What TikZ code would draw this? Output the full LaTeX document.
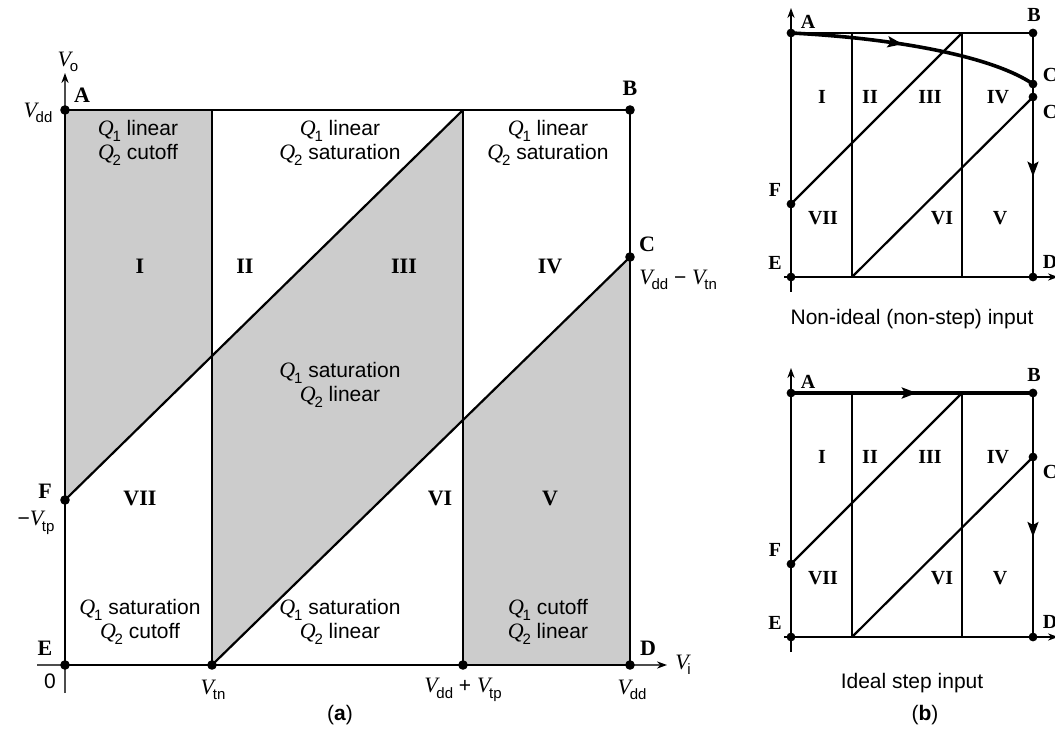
\documentclass[tikz,border=0pt]{standalone}
\usepackage{fontspec}
\setmainfont{Liberation Sans}
\newfontfamily\tms{Liberation Serif}
\usetikzlibrary{arrows.meta,calc,decorations.markings}

% italic symbol with a sans subscript
\newcommand{\sym}[2]{{\tms\itshape\fontsize{11}{12}\selectfont #1}\kern-0.06em\raisebox{-0.5ex}{\fontsize{7.5}{8}\selectfont #2}}

\begin{document}
\begin{tikzpicture}[x=0.5pt,y=-0.5pt,
  frame/.style={line width=1.4pt},
  wall/.style={line width=1.1pt},
  heavy/.style={line width=1.8pt},
  axis/.style={line width=0.7pt,black!70,-{Stealth[black,length=5pt,width=3.6pt]}},
  greyzone/.style={fill=black!20},
  pin/.style={circle,fill,inner sep=0pt,minimum size=#1},
  pin/.default=4.8pt,
  corner/.style={font=\tms\bfseries\fontsize{11}{11}\selectfont,inner sep=0pt},
  small/.style={font=\tms\bfseries\fontsize{10}{10}\selectfont,inner sep=0pt},
  mode/.style={align=center,font=\fontsize{10.5}{12}\selectfont,inner sep=0pt},
  tick/.style={font=\fontsize{10.5}{12}\selectfont,inner sep=0pt},
  midarrow/.style={postaction={decorate},decoration={markings,
    mark=at position #1 with {\arrow{Stealth[length=7.5pt,width=5.5pt,inset=1.5pt]}}}}]
\useasboundingbox (0,0) rectangle (1055,753);

%% (a) operating regions
\coordinate (A) at (65,110);
\coordinate (B) at (630,110);
\coordinate (C) at (630,257);
\coordinate (D) at (630,665);
\coordinate (E) at (65,665);
\coordinate (F) at (65,500);
\coordinate (tn) at (212,665);
\coordinate (tp) at (463,665);
\coordinate (tnT) at (212,110);
\coordinate (tpT) at (463,110);
\coordinate (G) at ($(F)!0.3693!(tpT)$);
\coordinate (H) at ($(tn)!0.6005!(C)$);

\fill[greyzone] (A) -- (tnT) -- (G) -- (F) -- cycle;
\fill[greyzone] (G) -- (tpT) -- (H) -- (tn) -- cycle;
\fill[greyzone] (H) -- (C) -- (D) -- (tp) -- cycle;

\coordinate (xs) at (37,665);
\coordinate (xe) at (667,665);
\coordinate (ys) at (65,693);
\coordinate (ye) at (65,73);
\draw[axis] (xs) -- (xe);
\draw[axis] (ys) -- (ye);

\draw[frame] (A) -- (B) -- (D) -- (E) -- cycle;
\draw[wall] (tn) -- (tnT);
\draw[wall] (tp) -- (tpT);
\draw[wall] (F) -- (tpT);
\draw[wall] (tn) -- (C);
\foreach \p in {A,B,C,D,E,F,tn,tp}
  \node[pin] (d\p) at (\p) {};

\node[corner] (lA) at (82,95) {A};
\node[corner] (lB) at (630,88) {B};
\node[corner] (lC) at (647,244) {C};
\node[corner] (lD) at (648,648) {D};
\node[corner] (lE) at (45,648) {E};
\node[corner] (lF) at (45,491) {F};

\node[tick] (vo) at (68,62) {\sym{V}{o}};
\node[tick] (vi) at (683,665) {\sym{V}{i}};
\node[tick] (vdd) at (38,113) {\sym{V}{dd}};
\node[tick] (vtp) at (36,523) {−\sym{V}{tp}};
\node[tick] (zero) at (50,681) {0};
\node[tick] (vtn) at (213,690) {\sym{V}{tn}};
\node[tick] (vddtp) at (463,690) {\sym{V}{dd} + \sym{V}{tp}};
\node[tick] (vddb) at (632,690) {\sym{V}{dd}};
\node[tick,anchor=west] (vddtn) at (639,280) {\sym{V}{dd} − \sym{V}{tn}};

\node[corner] (r1) at (140,266) {I};
\node[corner] (r2) at (245,266) {II};
\node[corner] (r3) at (404,266) {III};
\node[corner] (r4) at (550,266) {IV};
\node[corner] (r5) at (550,498) {V};
\node[corner] (r6) at (440,498) {VI};
\node[corner] (r7) at (140,498) {VII};

\node[mode] (m1) at (138,143) {\sym{Q}{1} linear\\\sym{Q}{2} cutoff};
\node[mode] (m2) at (340,143) {\sym{Q}{1} linear\\\sym{Q}{2} saturation};
\node[mode] (m3) at (548,143) {\sym{Q}{1} linear\\\sym{Q}{2} saturation};
\node[mode] (m4) at (340,385) {\sym{Q}{1} saturation\\\sym{Q}{2} linear};
\node[mode] (m5) at (140,622) {\sym{Q}{1} saturation\\\sym{Q}{2} cutoff};
\node[mode] (m6) at (340,622) {\sym{Q}{1} saturation\\\sym{Q}{2} linear};
\node[mode] (m7) at (548,622) {\sym{Q}{1} cutoff\\\sym{Q}{2} linear};

\node[tick] (capa) at (340,715) {(\textbf{a})};

%% (b) the two switching paths
\foreach \p/\dy in {t/0,s/360}{
\begin{scope}[shift={(0,\dy)}]
  \coordinate (\p A) at (791,33);
  \coordinate (\p B) at (1033,33);
  \coordinate (\p C) at (1033,97);
  \coordinate (\p D) at (1033,277);
  \coordinate (\p E) at (791,277);
  \coordinate (\p F) at (791,204);
  \coordinate (\p G) at (852,33);
  \coordinate (\p H) at (962,33);
  \coordinate (\p J) at (852,277);
  \coordinate (\p K) at (962,277);
  \coordinate (\p xs) at (784,277);
  \coordinate (\p xe) at (1058,277);
  \coordinate (\p ys) at (791,292);
  \coordinate (\p ye) at (791,8);
  \draw[axis,black,line width=0.6pt] (\p xs) -- (\p xe);
  \draw[axis,black,line width=0.6pt] (\p ys) -- (\p ye);
  \draw[wall] (\p A) -- (\p B);
  \draw[wall] (\p A) -- (\p E) -- (\p D);
  \draw[wall] (\p G) -- (\p J);
  \draw[wall] (\p H) -- (\p K);
  \draw[wall] (\p F) -- (\p H);
  \draw[wall] (\p J) -- (\p C);
  \foreach \q in {A,B,C,D,E,F}
    \node[pin=4.4pt] (d\p\q) at (\p\q) {};
  \node[small] (l\p A) at (808,22) {A};
  \node[small] (l\p B) at (1034,15) {B};
  \node[small] (l\p C) at (1050,112) {C};
  \node[small] (l\p D) at (1050,262) {D};
  \node[small] (l\p E) at (775,263) {E};
  \node[small] (l\p F) at (775,190) {F};
  \node[small] (\p r1) at (822,97) {I};
  \node[small] (\p r2) at (870,97) {II};
  \node[small] (\p r3) at (930,97) {III};
  \node[small] (\p r4) at (998,97) {IV};
  \node[small] (\p r5) at (1000,218) {V};
  \node[small] (\p r6) at (942,218) {VI};
  \node[small] (\p r7) at (823,218) {VII};
\end{scope}
}

% non-step input
\coordinate (tCC) at (1033,84);
\draw[heavy,midarrow=0.45] (tA) .. controls (890,38) and (990,55) .. (tCC);
\draw[wall] (tB) -- (tCC);
\draw[wall,midarrow=0.48] (tCC) -- (tD);
\node[pin=4.4pt] (dtCC) at (tCC) {};
\node[small] (ltCC) at (1050,75) {C};
\node[tick] (capt) at (912,319) {Non-ideal (non-step) input};

% step input
\draw[heavy,midarrow=0.52] (sA) -- (sB);
\draw[wall,midarrow=0.59] (sB) -- (sD);
\node[tick] (caps) at (912,683) {Ideal step input};

\node[tick] (capb) at (925,715) {(\textbf{b})};
\end{tikzpicture}
\end{document}
